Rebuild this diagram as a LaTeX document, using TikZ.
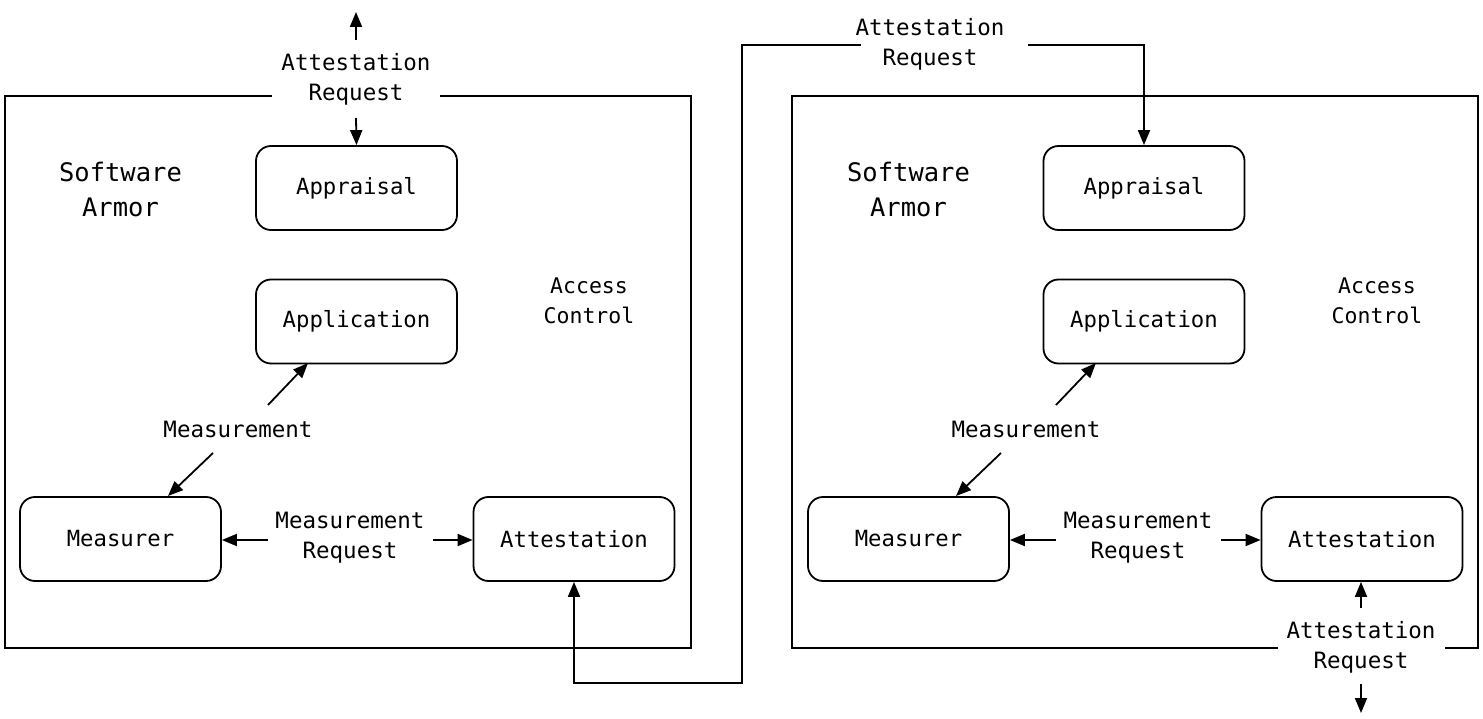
\documentclass[tikz,border=0pt]{standalone}
\usepackage{fontspec}
\setmainfont{DejaVu Sans Mono}
\usetikzlibrary{arrows.meta}
\tikzset{
  x=1pt, y=-1pt,
  ln/.style={line width=1.8pt},
  tip/.tip={Triangle[length=15pt,width=12pt]},
  arr/.style={ln, -tip},
  rbox/.style={draw, ln, rounded corners=15pt, minimum width=201pt, minimum height=84pt, inner sep=0pt, font=\fontsize{22.3}{30}\selectfont},
  lbl/.style={align=center, inner sep=0pt, font=\fontsize{22.5}{30}\selectfont},
  acc/.style={align=center, inner sep=0pt, font=\fontsize{21.5}{30}\selectfont},
  sw/.style={align=center, inner sep=0pt, font=\fontsize{25.5}{35}\selectfont},
}
\begin{document}
\begin{tikzpicture}
\useasboundingbox (0,0) rectangle (1483,719);
% ---------- left system ----------
\draw[ln] (272,96) -- (5,96) -- (5,648) -- (691,648) -- (691,96) -- (440,96);
\node[lbl] (tlreq) at (356,79) {Attestation\\Request};
\node[rbox] (lapr) at (356.5,188) {Appraisal};
\node[rbox] (lapp) at (356.5,321.5) {Application};
\node[rbox] (lmsr) at (120.5,539) {Measurer};
\node[rbox] (latt) at (574,539) {Attestation};
\node[sw] (lsw) at (120.5,189) {Software\\Armor};
\node[acc] (lac) at (589,301) {Access\\Control};
\node[lbl] (lmeas) at (238,429) {Measurement};
\node[lbl] (lmreq) at (350,538) {Measurement\\Request};
\coordinate (lt1) at (356,40);
\coordinate (lt2) at (356,12);
\coordinate (lt3) at (356,118);
\draw[arr] (lt1) -- (lt2);
\draw[arr] (lt3) -- (lapr.north);
\coordinate (lm1) at (268,405);
\coordinate (lm2) at (308,363);
\coordinate (lm3) at (213,453);
\coordinate (lm4) at (168,496);
\draw[arr] (lm1) -- (lm2);
\draw[arr] (lm3) -- (lm4);
\coordinate (lr1) at (268,540);
\coordinate (lr2) at (433,540);
\draw[arr] (lr1) -- (lmsr.east |- lr1);
\draw[arr] (lr2) -- (latt.west |- lr2);
% ---------- right system ----------
\draw[ln] (1278,648) -- (792,648) -- (792,96) -- (1478,96) -- (1478,648) -- (1445,648);
\node[rbox] (rapr) at (1144,188) {Appraisal};
\node[rbox] (rapp) at (1144,321.5) {Application};
\node[rbox] (rmsr) at (908.5,539) {Measurer};
\node[rbox] (ratt) at (1362,539) {Attestation};
\node[sw] (rsw) at (908.5,189) {Software\\Armor};
\node[acc] (rac) at (1377,301) {Access\\Control};
\node[lbl] (rmeas) at (1026,429) {Measurement};
\node[lbl] (rmreq) at (1138,538) {Measurement\\Request};
\node[lbl] (brreq) at (1361,647) {Attestation\\Request};
\coordinate (rm1) at (1056,405);
\coordinate (rm2) at (1096,363);
\coordinate (rm3) at (1001,453);
\coordinate (rm4) at (956,496);
\draw[arr] (rm1) -- (rm2);
\draw[arr] (rm3) -- (rm4);
\coordinate (rr1) at (1056,540);
\coordinate (rr2) at (1221,540);
\draw[arr] (rr1) -- (rmsr.east |- rr1);
\draw[arr] (rr2) -- (ratt.west |- rr2);
\coordinate (rb1) at (1361,608);
\coordinate (rb2) at (1361,684);
\coordinate (rb3) at (1361,713);
\draw[arr] (rb1) -- (rb1 |- ratt.south);
\draw[arr] (rb2) -- (rb3);
% ---------- connector between systems ----------
\node[lbl] (mreq) at (930,44) {Attestation\\Request};
\coordinate (c1) at (574,683);
\coordinate (c2) at (742,683);
\coordinate (c3) at (742,45);
\coordinate (c4) at (861,45);
\coordinate (c5) at (1028,45);
\coordinate (c6) at (1144,45);
\draw[ln, tip-] (latt.south) -- (c1) -- (c2) -- (c3) -- (c4);
\draw[arr] (c5) -- (c6) -- (rapr.north);
\end{tikzpicture}
\end{document}
